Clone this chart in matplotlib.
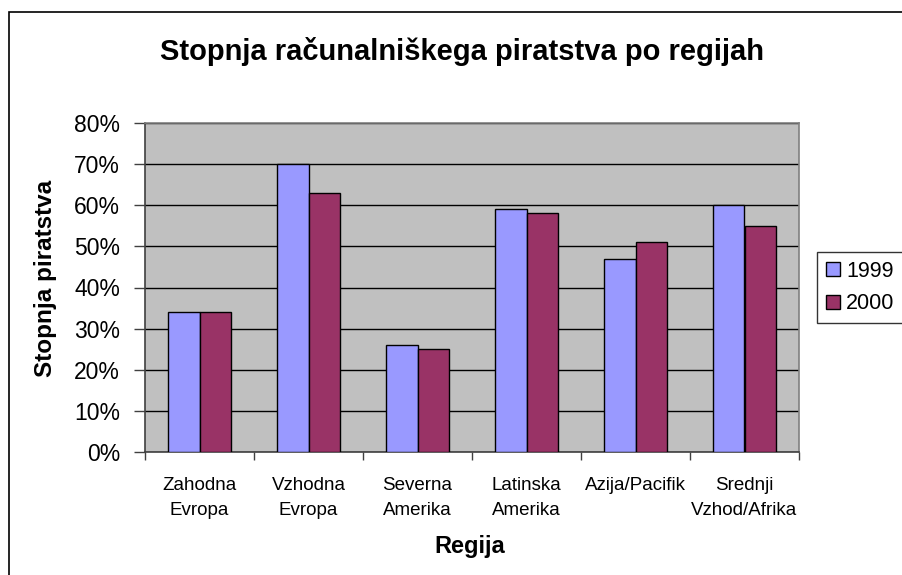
import matplotlib.pyplot as plt
import numpy as np
from matplotlib.patches import Rectangle, Patch
from matplotlib.ticker import FuncFormatter

plt.rcParams['font.family'] = ['Liberation Sans', 'DejaVu Sans']

regions = ['Zahodna\nEvropa', 'Vzhodna\nEvropa', 'Severna\nAmerika',
           'Latinska\nAmerika', 'Azija/Pacifik', 'Srednji\nVzhod/Afrika']
rate_1999 = [34, 70, 26, 59, 47, 60]
rate_2000 = [34, 63, 25, 58, 51, 55]
years = ['1999', '2000']

fig = plt.figure(figsize=(9.02, 5.75), dpi=100)
# outer chart frame (right and bottom edges fall outside the picture)
fig.patches.append(Rectangle((9 / 902, -0.1), 1.2, 1 - 12 / 575 + 0.1,
                             transform=fig.transFigure, fill=False,
                             edgecolor='black', linewidth=1.2))

ax = fig.add_axes([145 / 902, (575 - 452) / 575, 654 / 902, 329 / 575])
ax.set_facecolor('#C0C0C0')

x = np.arange(len(regions))
w = 1 / 3.5
ax.bar(x - w / 2, rate_1999, w, color='#9999FF', edgecolor='black',
       linewidth=1, zorder=3)
ax.bar(x + w / 2, rate_2000, w, color='#993366', edgecolor='black',
       linewidth=1, zorder=3)

ax.set_xlim(-0.5, len(regions) - 0.5)
ax.set_ylim(0, 80)
ax.set_yticks(range(0, 81, 10))
ax.yaxis.set_major_formatter(FuncFormatter(lambda v, p: f'{v:.0f}%'))
ax.yaxis.grid(True, color='black', linewidth=1, zorder=1)

ax.set_xticks(np.arange(len(regions) + 1) - 0.5)
ax.set_xticklabels([])
ax.set_xticks(x, minor=True)
ax.set_xticklabels(regions, minor=True, fontsize=13.5, linespacing=1.6)
ax.tick_params(axis='x', which='major', length=6, width=1, color='#404040')
ax.tick_params(axis='x', which='minor', length=0, pad=18)
ax.tick_params(axis='y', length=8, width=1, color='#404040', labelsize=16.5,
               pad=10)

for s in ax.spines.values():
    s.set_color('#808080')
    s.set_linewidth(1.2)
ax.spines['left'].set_color('#404040')
ax.spines['bottom'].set_color('#404040')

fig.text(470 / 902, 1 - 547 / 575, 'Regija', fontsize=17,
         fontweight='bold', ha='center', va='center')
fig.text(46 / 902, 1 - 278 / 575, 'Stopnja piratstva', fontsize=17.5,
         fontweight='bold', ha='center', va='center', rotation=90)
fig.text(462 / 902, 1 - 52 / 575,
         'Stopnja računalniškega piratstva po regijah',
         fontsize=21, fontweight='bold', ha='center', va='center')

handles = [Patch(facecolor='#9999FF', edgecolor='black'),
           Patch(facecolor='#993366', edgecolor='black')]
fig.legend(handles, years, loc='upper left',
           bbox_to_anchor=(817 / 902, 1 - 252 / 575), fontsize=15.5,
           frameon=True, fancybox=False, edgecolor='black',
           handlelength=0.65, handleheight=0.65, handletextpad=0.3,
           borderpad=0.4, labelspacing=0.55, borderaxespad=0)

fig.savefig('out.png', dpi=100)
